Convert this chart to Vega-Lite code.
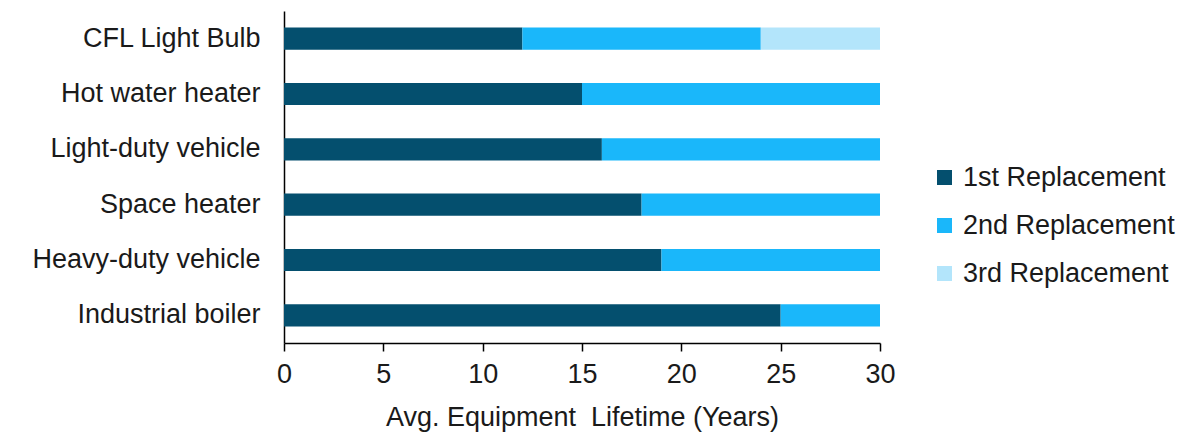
{
  "$schema": "https://vega.github.io/schema/vega-lite/v6.json",
  "width": 596,
  "height": 332,
  "autosize": {"type": "none"},
  "padding": {"left": 284, "top": 11, "right": 312, "bottom": 94},
  "background": "white",
  "config": {
    "view": {"stroke": null},
    "font": "Liberation Sans",
    "axis": {"labelFont": "Liberation Sans", "titleFont": "Liberation Sans", "labelColor": "#1a1a1a", "titleColor": "#1a1a1a"}
  },
  "data": {
    "values": [
      {"equipment": "CFL Light Bulb", "series": "1st Replacement", "ord": 1, "years": 12},
      {"equipment": "CFL Light Bulb", "series": "2nd Replacement", "ord": 2, "years": 12},
      {"equipment": "CFL Light Bulb", "series": "3rd Replacement", "ord": 3, "years": 6},
      {"equipment": "Hot water heater", "series": "1st Replacement", "ord": 1, "years": 15},
      {"equipment": "Hot water heater", "series": "2nd Replacement", "ord": 2, "years": 15},
      {"equipment": "Light-duty vehicle", "series": "1st Replacement", "ord": 1, "years": 16},
      {"equipment": "Light-duty vehicle", "series": "2nd Replacement", "ord": 2, "years": 14},
      {"equipment": "Space heater", "series": "1st Replacement", "ord": 1, "years": 18},
      {"equipment": "Space heater", "series": "2nd Replacement", "ord": 2, "years": 12},
      {"equipment": "Heavy-duty vehicle", "series": "1st Replacement", "ord": 1, "years": 19},
      {"equipment": "Heavy-duty vehicle", "series": "2nd Replacement", "ord": 2, "years": 11},
      {"equipment": "Industrial boiler", "series": "1st Replacement", "ord": 1, "years": 25},
      {"equipment": "Industrial boiler", "series": "2nd Replacement", "ord": 2, "years": 5}
    ]
  },
  "mark": {"type": "bar"},
  "encoding": {
    "y": {
      "field": "equipment",
      "type": "nominal",
      "sort": ["CFL Light Bulb", "Hot water heater", "Light-duty vehicle", "Space heater", "Heavy-duty vehicle", "Industrial boiler"],
      "scale": {"paddingInner": 0.6, "paddingOuter": 0.3},
      "axis": {"title": null, "ticks": false, "domainColor": "#000000", "domainWidth": 1.5, "labelFontSize": 27, "labelPadding": 24, "labelLimit": 400, "labelColor": "#1a1a1a"}
    },
    "x": {
      "field": "years",
      "type": "quantitative",
      "stack": "zero",
      "scale": {"domain": [0, 30], "nice": false},
      "axis": {"title": "Avg. Equipment\u00a0 Lifetime (Years)", "values": [0, 5, 10, 15, 20, 25, 30], "labelFlush": false, "grid": false, "domainColor": "#000000", "domainWidth": 1.5, "tickColor": "#000000", "tickWidth": 1.5, "tickSize": 8, "labelFontSize": 27, "labelPadding": 10, "titleFontSize": 27, "titleFontWeight": "normal", "titlePadding": 17}
    },
    "color": {
      "field": "series",
      "type": "nominal",
      "scale": {"domain": ["1st Replacement", "2nd Replacement", "3rd Replacement"], "range": ["#044F6E", "#1AB7FA", "#B3E5FB"]},
      "legend": {"title": null, "orient": "none", "legendX": 647, "legendY": 153, "symbolType": "square", "symbolSize": 225, "symbolStrokeWidth": 0, "labelFontSize": 27, "labelLimit": 400, "labelColor": "#1a1a1a", "rowPadding": 20, "labelOffset": 5}
    },
    "order": {"field": "ord", "type": "quantitative"}
  }
}
